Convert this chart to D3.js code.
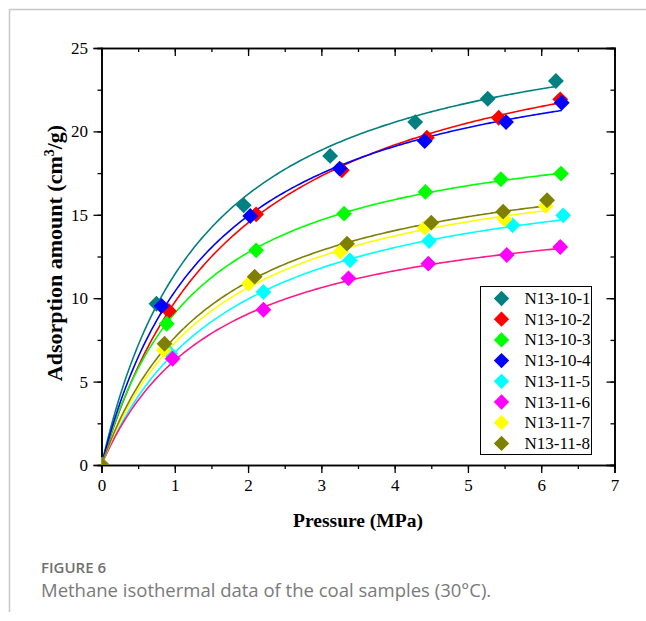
<!DOCTYPE html>
<html>
<head>
<meta charset="utf-8">
<script src="https://cdn.jsdelivr.net/npm/d3@7/dist/d3.min.js"></script>
<style>
  body { margin: 0; background: #fff; }
  svg { display: block; }
</style>
</head>
<body>
<div id="chart"></div>
<script>
// sample names and colours
var names = ["N13-10-1", "N13-10-2", "N13-10-3", "N13-10-4", "N13-11-5", "N13-11-6", "N13-11-7", "N13-11-8"];
var colors = ["#008080", "#ff0000", "#00ff00", "#0000ff", "#00ffff", "#ff00ff", "#ffff00", "#808000"];
var lineColors = ["#008080", "#ff0000", "#00ff00", "#0000ff", "#00ffff", "#ff1a8c", "#ffff00", "#808000"];

var p1 = [0, 0.75, 1.94, 3.12, 4.28, 5.27, 6.20];
var v1 = [0, 9.67, 15.57, 18.53, 20.56, 21.96, 23.02];
var p2 = [0, 0.92, 2.11, 3.28, 4.44, 5.42, 6.26];
var v2 = [0, 9.23, 15.03, 17.67, 19.62, 20.82, 21.92];
var p3 = [0, 0.89, 2.11, 3.31, 4.42, 5.45, 6.27];
var v3 = [0, 8.47, 12.87, 15.07, 16.37, 17.13, 17.47];
var p4 = [0, 0.82, 2.03, 3.25, 4.41, 5.52, 6.28];
var v4 = [0, 9.53, 14.93, 17.77, 19.42, 20.56, 21.72];
var p5 = [0, 0.94, 2.21, 3.39, 4.47, 5.61, 6.30];
var v5 = [0, 6.67, 10.37, 12.27, 13.43, 14.37, 14.97];
var p6 = [0, 0.97, 2.21, 3.37, 4.46, 5.53, 6.26];
var v6 = [0, 6.37, 9.31, 11.19, 12.07, 12.59, 13.07];
var p7 = [0, 0.85, 2.01, 3.26, 4.41, 5.50, 6.06];
var v7 = [0, 6.89, 10.87, 12.79, 14.23, 14.73, 15.53];
var p8 = [0, 0.86, 2.09, 3.35, 4.50, 5.48, 6.08];
var v8 = [0, 7.27, 11.29, 13.27, 14.53, 15.19, 15.87];

// Langmuir fit parameters (VL, PL) of the drawn curves
var fitVL = [28.0, 28.3, 21.2, 26.5, 18.9, 16.3, 19.4, 19.5];
var fitPL = [1.45, 1.90, 1.33, 1.55, 1.80, 1.60, 1.65, 1.55];

var xTicks = [0, 1, 2, 3, 4, 5, 6, 7];
var yTicks = [0, 5, 10, 15, 20, 25];

var pressures = [p1, p2, p3, p4, p5, p6, p7, p8];
var amounts = [v1, v2, v3, v4, v5, v6, v7, v8];

var W = 646, H = 621;
var mLeft = 101.5, mRight = 614.5, mTop = 48, mBottom = 465;

var svg = d3.select("#chart").append("svg")
    .attr("width", W)
    .attr("height", H);

// page frame lines
svg.append("line").attr("x1", 10).attr("y1", 9.5).attr("x2", W).attr("y2", 9.5)
    .attr("stroke", "#c8c8c8").attr("stroke-width", 1.5);
svg.append("line").attr("x1", 9.5).attr("y1", 9).attr("x2", 9.5).attr("y2", 612)
    .attr("stroke", "#c8c8c8").attr("stroke-width", 1.5);

var x = d3.scaleLinear().domain([0, 7]).range([mLeft, mRight]);
var y = d3.scaleLinear().domain([0, 25]).range([mBottom, mTop]);

svg.append("clipPath").attr("id", "plotclip")
  .append("rect")
    .attr("x", mLeft).attr("y", mTop)
    .attr("width", mRight - mLeft).attr("height", mBottom - mTop);

var serif = "'Liberation Serif', 'Times New Roman', serif";

// axes
function styleAxis(g) {
  g.selectAll("path").attr("stroke", "#000").attr("stroke-width", 1.6);
  g.selectAll("line").attr("stroke", "#000").attr("stroke-width", 1.3);
  g.selectAll("text").attr("font-family", serif).attr("font-size", "17px").attr("fill", "#000");
}

var xMinor = d3.range(0, 7.01, 0.5);
var yMinor = d3.range(0, 25.01, 2.5);

svg.append("g").attr("transform", "translate(0," + mBottom + ")")
    .call(d3.axisBottom(x).tickValues(xMinor).tickSize(4).tickFormat(""))
    .call(styleAxis);
svg.append("g").attr("transform", "translate(0," + mBottom + ")")
    .call(d3.axisBottom(x).tickValues(xTicks).tickSize(8).tickPadding(6).tickFormat(d3.format("d")))
    .call(styleAxis);

svg.append("g").attr("transform", "translate(0," + mTop + ")")
    .call(d3.axisBottom(x).tickValues(xMinor).tickSize(4).tickFormat(""))
    .call(styleAxis);
svg.append("g").attr("transform", "translate(0," + mTop + ")")
    .call(d3.axisBottom(x).tickValues(xTicks).tickSize(8).tickFormat(""))
    .call(styleAxis);

svg.append("g").attr("transform", "translate(" + mLeft + ",0)")
    .call(d3.axisLeft(y).tickValues(yMinor).tickSize(4).tickFormat(""))
    .call(styleAxis);
svg.append("g").attr("transform", "translate(" + mLeft + ",0)")
    .call(d3.axisLeft(y).tickValues(yTicks).tickSize(8).tickPadding(5.5).tickFormat(d3.format("d")))
    .call(styleAxis);

svg.append("g").attr("transform", "translate(" + mRight + ",0)")
    .call(d3.axisLeft(y).tickValues(yMinor).tickSize(4).tickFormat(""))
    .call(styleAxis);
svg.append("g").attr("transform", "translate(" + mRight + ",0)")
    .call(d3.axisLeft(y).tickValues(yTicks).tickSize(8).tickFormat(""))
    .call(styleAxis);

// fitted curves
var line = d3.line()
    .x(function(d) { return x(d[0]); })
    .y(function(d) { return y(d[1]); });

var plot = svg.append("g").attr("clip-path", "url(#plotclip)");

names.forEach(function(n, i) {
  var pMax = d3.max(pressures[i]);
  var pts = d3.range(0, 201).map(function(k) {
    var p = pMax * k / 200;
    return [p, fitVL[i] * p / (fitPL[i] + p)];
  });
  plot.append("path")
      .datum(pts)
      .attr("fill", "none")
      .attr("stroke", lineColors[i])
      .attr("stroke-width", 1.6)
      .attr("d", line);
});

// markers
var diamond = d3.symbol().type(d3.symbolDiamond2).size(160);

names.forEach(function(n, i) {
  var data = pressures[i].map(function(p, k) { return [p, amounts[i][k]]; });
  plot.append("g").selectAll("path")
      .data(data)
      .enter().append("path")
      .attr("d", diamond)
      .attr("transform", function(d) { return "translate(" + x(d[0]) + "," + y(d[1]) + ")"; })
      .attr("fill", colors[i]);
});

// legend
var lg = svg.append("g").attr("transform", "translate(480.5,286.5)");
lg.append("rect")
    .attr("width", 111).attr("height", 168)
    .attr("fill", "#fff").attr("stroke", "#000").attr("stroke-width", 1);
names.forEach(function(n, i) {
  var row = lg.append("g").attr("transform", "translate(0," + (12 + i * 20.7) + ")");
  row.append("path").attr("d", d3.symbol().type(d3.symbolDiamond2).size(150))
      .attr("transform", "translate(21,0)").attr("fill", colors[i]);
  row.append("text").attr("x", 44).attr("y", 5.5)
      .attr("font-family", serif).attr("font-size", "17px").text(n);
});

// axis titles
svg.append("text")
    .attr("x", (mLeft + mRight) / 2).attr("y", 527)
    .attr("text-anchor", "middle")
    .attr("font-family", serif).attr("font-size", "19.5px").attr("font-weight", "bold")
    .text("Pressure (MPa)");

var yl = svg.append("text")
    .attr("transform", "translate(62,253) rotate(-90)")
    .attr("text-anchor", "middle")
    .attr("font-family", serif).attr("font-size", "22px").attr("font-weight", "bold");
yl.append("tspan").text("Adsorption amount (cm");
yl.append("tspan").attr("dy", -8).attr("font-size", "14px").text("3");
yl.append("tspan").attr("dy", 8).text("/g)");

// caption
svg.append("text")
    .attr("x", 41).attr("y", 573)
    .attr("font-family", "'Open Sans', 'Noto Sans', sans-serif").attr("font-size", "15px")
    .attr("font-weight", "600").attr("fill", "#707070")
    .text("FIGURE 6");
svg.append("text")
    .attr("x", 41).attr("y", 597)
    .attr("font-family", "'Open Sans', 'Noto Sans', sans-serif").attr("font-size", "18.5px")
    .attr("fill", "#7a7a7a")
    .text("Methane isothermal data of the coal samples (30°C).");
</script>
</body>
</html>
